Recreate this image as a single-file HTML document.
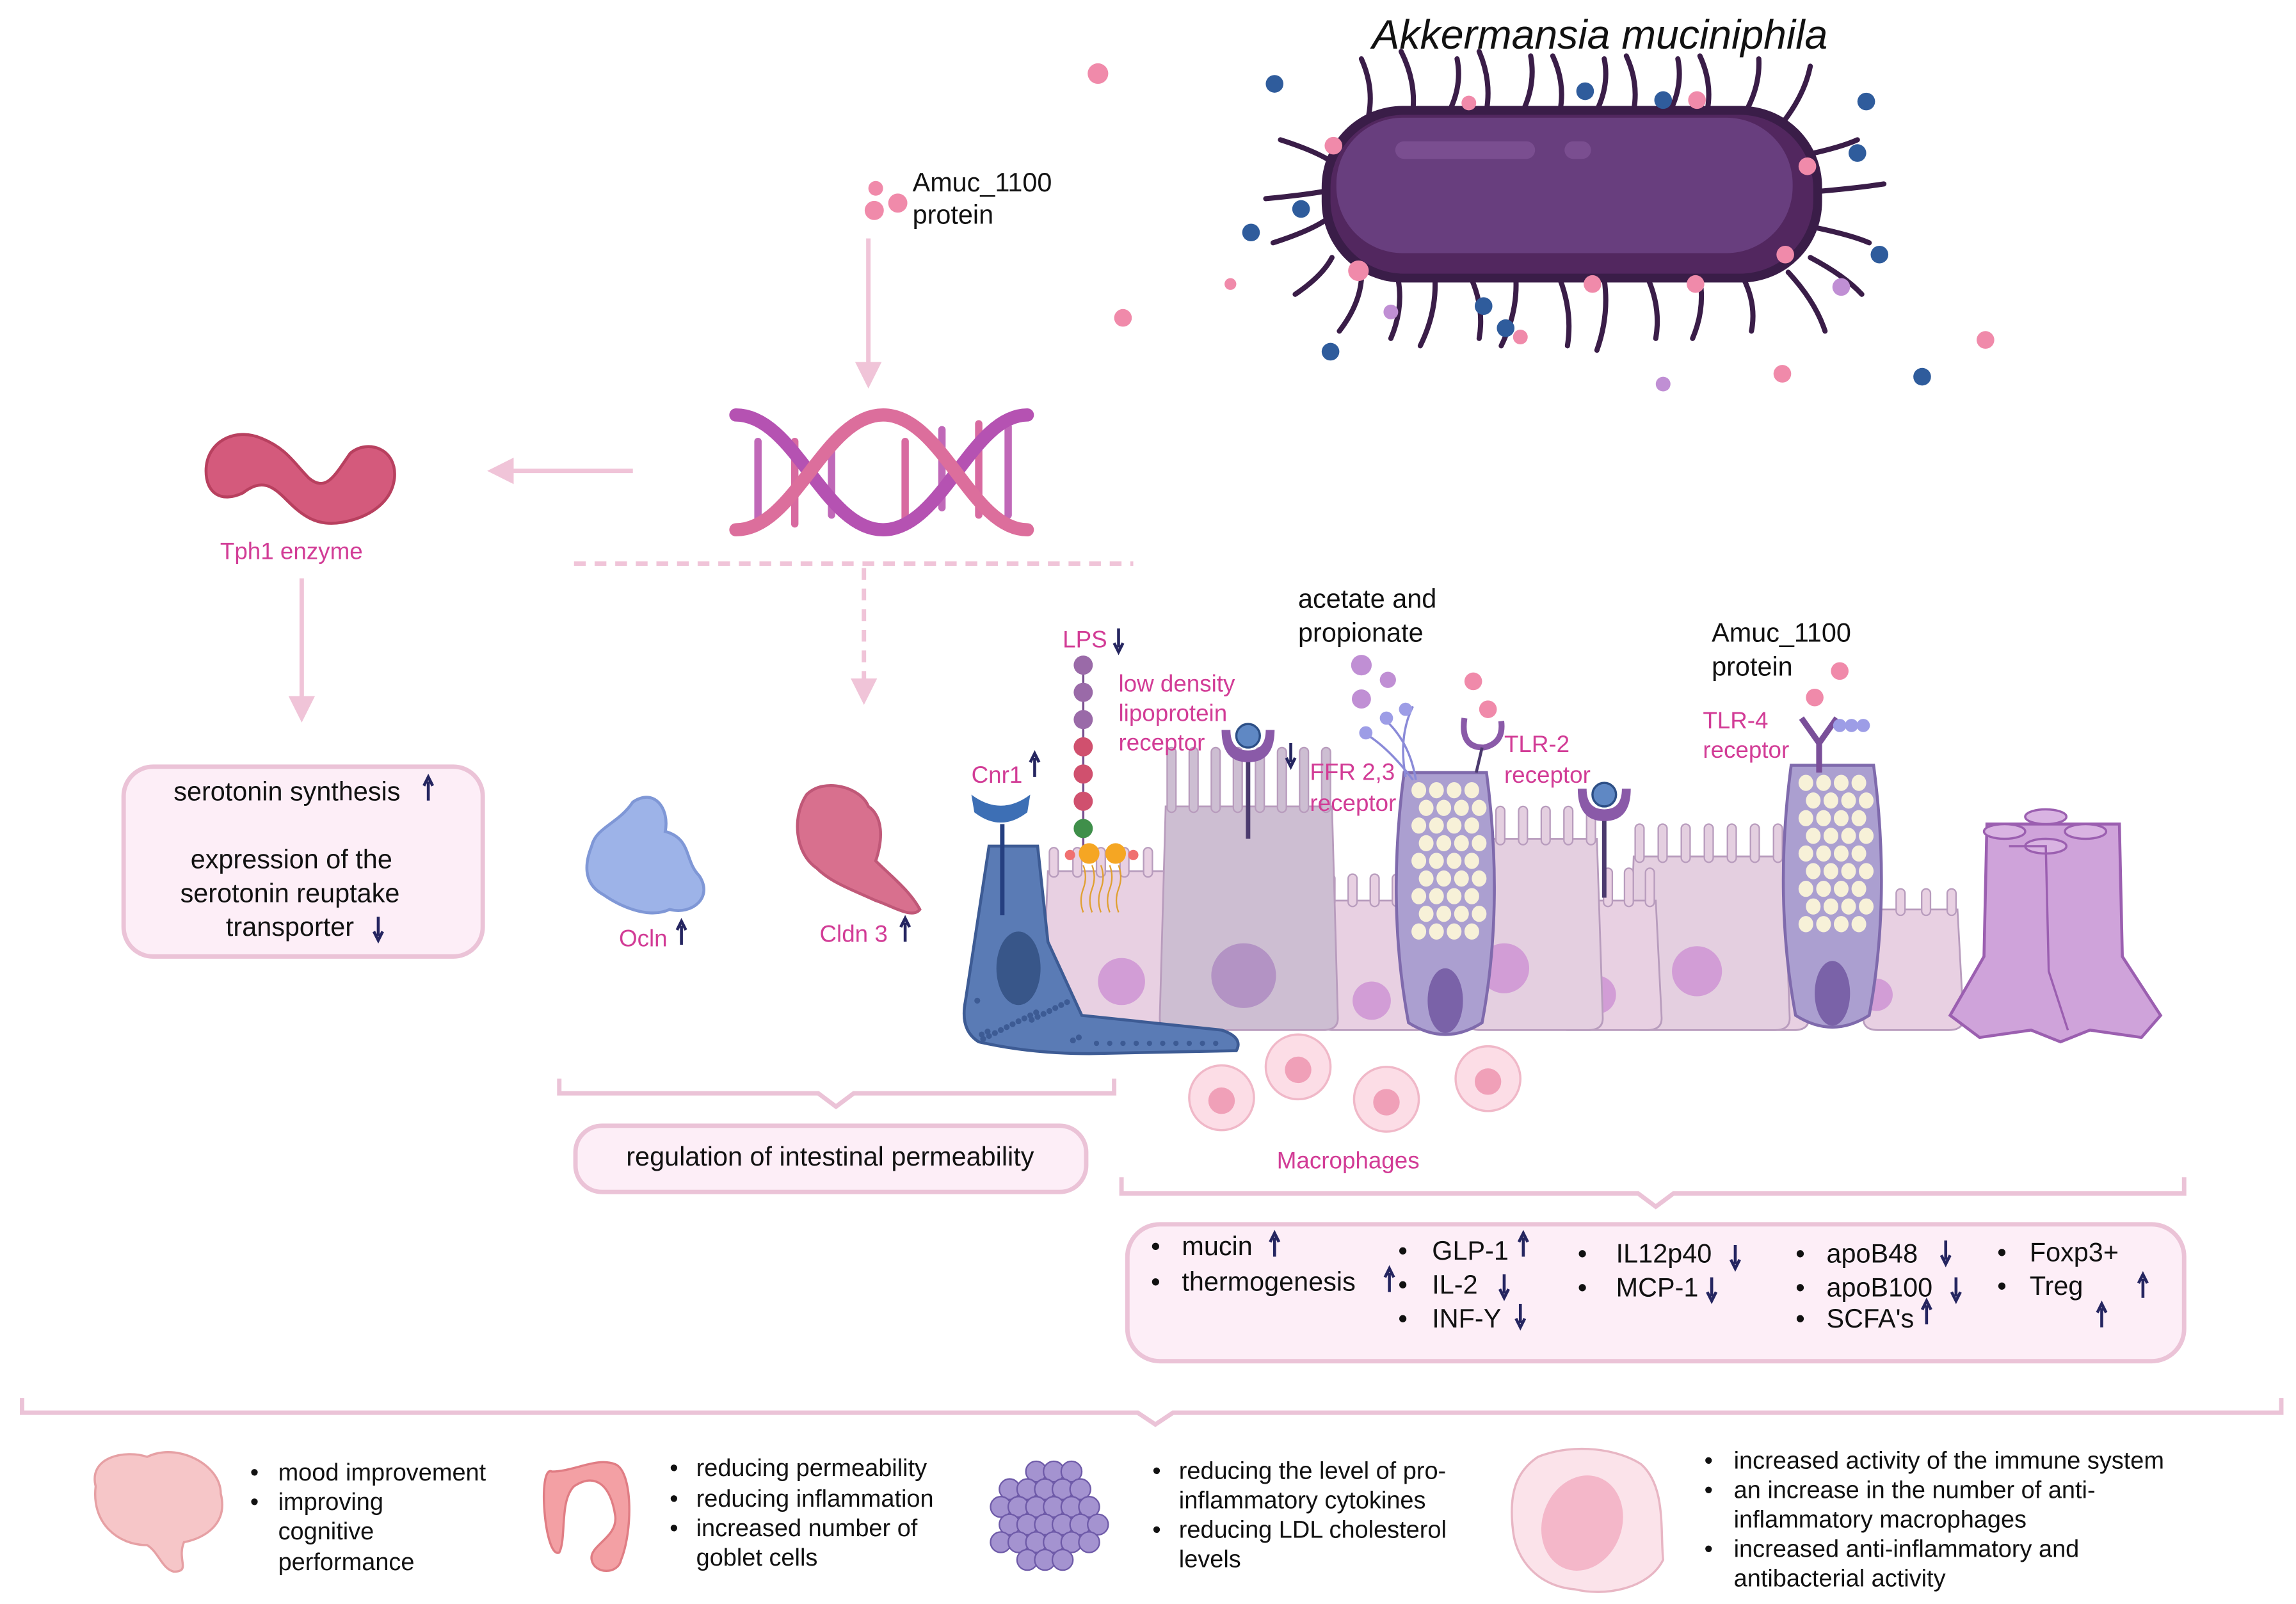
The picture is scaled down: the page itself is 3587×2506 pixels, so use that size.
<!DOCTYPE html>
<html><head><meta charset="utf-8"><style>
html,body{margin:0;padding:0;background:#fff}
svg{display:block}
text{font-family:"Liberation Sans",sans-serif}
.b{fill:#111;font-size:18px}
.p{fill:#d23c96;font-size:16px}
.s{fill:#111;font-size:16.5px}
</style></head><body>
<svg width="3587" height="2506" viewBox="0 0 1560 1090" preserveAspectRatio="none" xmlns="http://www.w3.org/2000/svg">
<defs>
<marker id="ah" markerWidth="6" markerHeight="6" refX="3" refY="3" orient="auto" markerUnits="strokeWidth"><path d="M0,0 L6,3 L0,6 z" fill="#f0c4d8"/></marker>
</defs>
<rect width="1560" height="1090" fill="#fff"/>

<!-- Bacterium -->
<text x="1087" y="33" font-size="28" font-style="italic" text-anchor="middle" fill="#111">Akkermansia muciniphila</text>
<g id="flag" stroke="#3a1d48" stroke-width="3.5" fill="none" stroke-linecap="round"></g>
<rect x="898" y="72" width="340" height="120" rx="55" fill="#3a1d48"/>
<rect x="904" y="78" width="328" height="108" rx="50" fill="#52275f"/>
<rect x="908" y="80" width="310" height="92" rx="45" fill="#683e7e"/>
<rect x="948" y="96" width="95" height="12" rx="6" fill="#7a4e90"/>
<rect x="1063" y="96" width="18" height="12" rx="6" fill="#7a4e90"/>
<g id="dots"></g>

<!-- Amuc protein top -->
<circle cx="595" cy="128" r="5" fill="#f08aaa"/><circle cx="594" cy="143" r="6.5" fill="#f08aaa"/><circle cx="610" cy="138" r="6.5" fill="#f08aaa"/>
<text x="620" y="130" class="b">Amuc_1100</text><text x="620" y="152" class="b">protein</text>
<line x1="590" y1="162" x2="590" y2="255" stroke="#f0c4d8" stroke-width="3" marker-end="url(#ah)"/>

<!-- DNA -->
<g stroke-width="9" fill="none" stroke-linecap="round">
<g stroke-width="5">
<line x1="515" y1="300" x2="515" y2="352" stroke="#c068b8"/><line x1="540" y1="300" x2="540" y2="356" stroke="#d86aa0"/>
<line x1="565" y1="305" x2="565" y2="350" stroke="#c068b8"/><line x1="615" y1="300" x2="615" y2="355" stroke="#d86aa0"/>
<line x1="640" y1="292" x2="640" y2="345" stroke="#c068b8"/><line x1="665" y1="288" x2="665" y2="350" stroke="#d86aa0"/>
<line x1="685" y1="290" x2="685" y2="350" stroke="#c068b8"/>
</g>
<path d="M500,282 C540,282 560,360 600,360 C640,360 660,282 698,282" stroke="#b552b2"/>
<path d="M500,360 C540,360 560,282 600,282 C640,282 660,360 698,360" stroke="#dc6e9c"/>
</g>
<line x1="430" y1="320" x2="340" y2="320" stroke="#f0c4d8" stroke-width="3" marker-end="url(#ah)"/>

<!-- Tph1 -->
<path d="M140,320 C140,300 160,290 178,298 C195,305 200,315 210,325 C222,335 228,322 238,308 C250,298 270,305 268,325 C266,342 250,352 232,355 C215,358 205,350 195,340 C185,330 178,325 165,335 C150,342 140,335 140,320 z" fill="#d45a7c" stroke="#b8405f" stroke-width="2"/>
<text x="198" y="380" class="p" text-anchor="middle">Tph1 enzyme</text>
<line x1="205" y1="393" x2="205" y2="482" stroke="#f0c4d8" stroke-width="3" marker-end="url(#ah)"/>

<!-- serotonin box -->
<rect x="84" y="521" width="244" height="129" rx="20" fill="#fdeef7" stroke="#ebc3d7" stroke-width="3"/>
<text x="195" y="544" class="b" text-anchor="middle">serotonin synthesis</text>
<text x="198" y="590" class="b" text-anchor="middle">expression of the</text>
<text x="197" y="613" class="b" text-anchor="middle">serotonin reuptake</text>
<text x="197" y="636" class="b" text-anchor="middle">transporter</text>

<!-- dashed lines -->
<line x1="390" y1="383" x2="770" y2="383" stroke="#f0c4d8" stroke-width="3" stroke-dasharray="8,6"/>
<line x1="587" y1="386" x2="587" y2="470" stroke="#f0c4d8" stroke-width="3" stroke-dasharray="8,6" marker-end="url(#ah)"/>

<!-- Ocln, Cldn -->
<path d="M430,545 C445,535 455,550 452,565 C470,570 465,585 475,595 C485,610 470,622 455,618 C440,625 420,615 410,608 C395,600 398,585 402,575 C405,562 420,560 430,545 z" fill="#9db3e8" stroke="#7f97d6" stroke-width="2"/>
<text x="437" y="643" class="p" text-anchor="middle">Ocln</text>
<path d="M548,540 C560,528 585,535 590,548 C600,555 600,570 595,585 C605,595 618,605 625,618 C620,625 605,615 595,612 C580,605 565,600 555,590 C540,580 538,555 548,540 z" fill="#d8708e" stroke="#c05878" stroke-width="2"/>
<text x="580" y="640" class="p" text-anchor="middle">Cldn 3</text>

<!-- Epithelium -->
<g id="cells"></g>

<!-- labels epithelium -->
<text x="722" y="440" class="p">LPS</text>
<text x="760" y="470" class="p">low density</text>
<text x="760" y="490" class="p">lipoprotein</text>
<text x="760" y="510" class="p">receptor</text>
<text x="660" y="532" class="p">Cnr1</text>
<text x="882" y="413" class="b">acetate and</text>
<text x="882" y="436" class="b">propionate</text>
<text x="890" y="530" class="p">FFR 2,3</text>
<text x="890" y="551" class="p">receptor</text>
<text x="1022" y="511" class="p">TLR-2</text>
<text x="1022" y="532" class="p">receptor</text>
<text x="1163" y="436" class="b">Amuc_1100</text>
<text x="1163" y="459" class="b">protein</text>
<text x="1157" y="495" class="p">TLR-4</text>
<text x="1157" y="515" class="p">receptor</text>
<text x="916" y="794" class="p" text-anchor="middle">Macrophages</text>

<!-- braces -->
<path d="M380,733 V743 H556 L568,752 L580,743 H757 V733" fill="none" stroke="#ebc3d7" stroke-width="3"/>
<rect x="391" y="765" width="347" height="45" rx="18" fill="#fdeef7" stroke="#ebc3d7" stroke-width="3"/>
<text x="564" y="792" class="b" text-anchor="middle">regulation of intestinal permeability</text>

<path d="M762,800 V811 H1113 L1125,820 L1137,811 H1484 V800" fill="none" stroke="#ebc3d7" stroke-width="3"/>
<rect x="766" y="832" width="718" height="93" rx="22" fill="#fdeef7" stroke="#ebc3d7" stroke-width="3"/>
<g class="b">
<text x="782" y="853">•</text><text x="803" y="853">mucin</text>
<text x="782" y="877">•</text><text x="803" y="877">thermogenesis</text>
<text x="950" y="856">•</text><text x="973" y="856">GLP-1</text>
<text x="950" y="879">•</text><text x="973" y="879">IL-2</text>
<text x="950" y="902">•</text><text x="973" y="902">INF-Y</text>
<text x="1072" y="858">•</text><text x="1098" y="858">IL12p40</text>
<text x="1072" y="881">•</text><text x="1098" y="881">MCP-1</text>
<text x="1220" y="858">•</text><text x="1241" y="858">apoB48</text>
<text x="1220" y="881">•</text><text x="1241" y="881">apoB100</text>
<text x="1220" y="902">•</text><text x="1241" y="902">SCFA's</text>
<text x="1357" y="857">•</text><text x="1379" y="857">Foxp3+</text>
<text x="1357" y="880">•</text><text x="1379" y="880">Treg</text>
</g>

<path d="M15,950 V960 H773 L785,968 L797,960 H1550 V950" fill="none" stroke="#ebc3d7" stroke-width="3"/>

<!-- bottom icons -->
<path d="M65,1010 C60,990 85,985 100,990 C120,980 150,995 150,1015 C155,1035 140,1045 125,1048 C120,1060 130,1068 118,1068 C110,1066 108,1055 100,1050 C80,1050 62,1035 65,1010 z" fill="#f6c6c8" stroke="#e6a0a4" stroke-width="1.5"/>
<path d="M375,1000 C365,995 370,1060 380,1055 C385,1045 380,1020 390,1010 C405,1000 415,1010 418,1030 C420,1045 400,1050 402,1060 C404,1070 420,1070 422,1060 C430,1040 430,1000 418,995 C405,990 390,1000 375,1000 z" fill="#f3a0a4" stroke="#e07d84" stroke-width="1.5"/>
<g id="clus"></g>
<path d="M1045,990 C1070,980 1100,985 1115,995 C1132,1010 1128,1040 1130,1060 C1120,1080 1090,1085 1070,1080 C1045,1078 1030,1060 1028,1040 C1025,1015 1030,1000 1045,990 z" fill="#fbe3ea" stroke="#e8b6c4" stroke-width="1.5"/>
<ellipse cx="1075" cy="1035" rx="27" ry="33" transform="rotate(20 1075 1035)" fill="#f4b7c9"/>

<g class="s">
<text x="170" y="1006">•</text><text x="189" y="1006">mood improvement</text>
<text x="170" y="1026">•</text><text x="189" y="1026">improving</text>
<text x="189" y="1046">cognitive</text>
<text x="189" y="1067">performance</text>
<text x="455" y="1003">•</text><text x="473" y="1003">reducing permeability</text>
<text x="455" y="1024">•</text><text x="473" y="1024">reducing inflammation</text>
<text x="455" y="1044">•</text><text x="473" y="1044">increased number of</text>
<text x="473" y="1064">goblet cells</text>
<text x="783" y="1005">•</text><text x="801" y="1005">reducing the level of pro-</text>
<text x="801" y="1025">inflammatory cytokines</text>
<text x="783" y="1045">•</text><text x="801" y="1045">reducing LDL cholesterol</text>
<text x="801" y="1065">levels</text>
<text x="1158" y="998">•</text><text x="1178" y="998">increased activity of the immune system</text>
<text x="1158" y="1018">•</text><text x="1178" y="1018">an increase in the number of anti-</text>
<text x="1178" y="1038">inflammatory macrophages</text>
<text x="1158" y="1058">•</text><text x="1178" y="1058">increased anti-inflammatory and</text>
<text x="1178" y="1078">antibacterial activity</text>
</g>
<g id="arr"></g>
</svg>
<script>
const NS="http://www.w3.org/2000/svg";
function el(p,t,a){const e=document.createElementNS(NS,t);for(const k in a)e.setAttribute(k,a[k]);document.getElementById(p).appendChild(e);return e;}
// flagella
const fl=[[930,78,925,40],[960,75,952,35],[985,75,990,40],[1010,75,1005,35],[1035,75,1040,38],[1060,75,1055,38],[1085,75,1090,40],[1110,75,1105,38],[1135,75,1140,40],[1160,75,1155,38],[1185,78,1195,40],[1210,85,1230,45],[1228,105,1262,95],[1236,130,1280,125],[1235,155,1270,165],[1230,175,1265,200],[1215,185,1240,225],[905,110,870,95],[900,130,860,135],[900,150,865,165],[905,175,880,200],[925,190,910,225],[950,190,945,230],[975,190,965,235],[1000,190,1005,230],[1030,190,1020,235],[1060,190,1065,235],[1090,190,1085,238],[1120,190,1125,230],[1155,190,1150,230],[1185,190,1190,225]];
fl.forEach(f=>el("flag","path",{d:`M${f[0]},${f[1]} Q${(f[0]+f[2])/2+6},${(f[1]+f[3])/2} ${f[2]},${f[3]}`}));
const pk="#f08aaa",nv="#2f5c9c",lv="#c08fd4";
[[746,50,7,pk],[866,57,6,nv],[1077,62,6,nv],[998,70,5,pk],[1130,68,6,nv],[1153,68,6,pk],[1268,69,6,nv],[1262,104,6,nv],[906,99,6,pk],[884,142,6,nv],[850,158,6,nv],[1228,113,6,pk],[1213,173,6,pk],[1277,173,6,nv],[923,184,7,pk],[836,193,4,pk],[945,212,5,lv],[1008,208,6,nv],[1023,223,6,nv],[1033,229,5,pk],[1082,193,6,pk],[1152,193,6,pk],[1251,195,6,lv],[763,216,6,pk],[904,239,6,nv],[1130,261,5,lv],[1211,254,6,pk],[1306,256,6,nv],[1349,231,6,pk]].forEach(d=>el("dots","circle",{cx:d[0],cy:d[1],r:d[2],fill:d[3]}));
// cells
function cell(x1,x2,top,bot,fill,nx,ny,nr,nf,vh){
  el("cells","path",{d:`M${x1},${top} L${x2},${top} L${x2+4},${bot-8} Q${x2+4},${bot} ${x2-6},${bot} L${x1+6},${bot} Q${x1-4},${bot} ${x1-4},${bot-8} z`,fill:fill,stroke:"#b89cbd","stroke-width":1.2});
  const n=Math.floor((x2-x1)/13);
  for(let i=0;i<n;i++){const vx=x1+4+i*((x2-x1-8)/Math.max(1,n-1))-3;el("cells","rect",{x:vx,y:top-vh,width:6,height:vh+4,rx:3,fill:fill,stroke:"#b89cbd","stroke-width":1});}
  el("cells","circle",{cx:nx,cy:ny,r:nr,fill:nf});
}
cell(712,800,592,700,"#e8d0e2",762,667,16,"#d29dd6",16);
cell(1270,1330,618,700,"#e8d0e2",1275,676,11,"#d29dd6",14);
cell(1185,1225,612,700,"#e8d0e2",1202,676,12,"#d29dd6",12);
cell(1110,1212,582,700,"#e4cfe0",1153,660,17,"#d29dd6",22);
cell(1060,1125,612,700,"#e8d0e2",1085,676,13,"#d29dd6",22);
cell(1000,1085,570,700,"#e4cfe0",1022,658,17,"#d29dd6",22);
cell(900,968,612,700,"#e8d0e2",932,680,13,"#d29dd6",18);
cell(792,905,548,700,"#cdbed2",845,663,22,"#b393c4",40);
// goblets
function gob(cx,top,bot){
  el("cells","path",{d:`M${cx-28},${top} Q${cx-40},${(top+bot)/2} ${cx-25},${bot-10} Q${cx},${bot+6} ${cx+25},${bot-10} Q${cx+40},${(top+bot)/2} ${cx+28},${top} z`,fill:"#ab9fd0",stroke:"#7f6aac","stroke-width":2});
  for(let r=0;r<9;r++)for(let c=0;c<4;c++){el("cells","ellipse",{cx:cx-18+c*12+(r%2)*5,cy:top+12+r*12,rx:5,ry:5.5,fill:"#f7f1d8"});}
  el("cells","ellipse",{cx:cx,cy:bot-25,rx:12,ry:22,fill:"#7a62a8"});
}
gob(982,525,705);gob(1245,520,700);
// blue cell
el("cells","path",{d:"M672,575 L705,575 L712,640 L735,690 L830,700 Q845,705 840,714 L740,716 Q700,716 665,708 Q652,700 656,680 Z",fill:"#5a7bb5",stroke:"#3d5b94","stroke-width":2});
el("cells","ellipse",{cx:692,cy:658,rx:15,ry:25,fill:"#385689"});
for(let i=0;i<22;i++)el("cells","circle",{cx:664+(i*37)%70,cy:680+(i*13)%28,r:2,fill:"#3d5b94"});
for(let i=0;i<10;i++)el("cells","circle",{cx:745+i*9,cy:709,r:1.8,fill:"#3d5b94"});
el("cells","path",{d:"M660,540 Q680,555 700,540 L698,552 Q680,566 662,552 Z",fill:"#3d6fb5"});
el("cells","line",{x1:681,y1:560,x2:681,y2:622,stroke:"#253f80","stroke-width":3});
// tuft
el("cells","path",{d:"M1350,560 L1440,560 L1442,650 L1468,690 L1455,705 L1420,700 L1400,708 L1380,700 L1345,705 L1325,690 L1348,650 Z",fill:"#cfa3da",stroke:"#9b5fb0","stroke-width":2});
[[1350,565],[1378,555],[1405,565],[1378,575]].forEach(p=>{el("cells","ellipse",{cx:p[0]+12,cy:p[1],rx:14,ry:5,fill:"#d9b3e2",stroke:"#9b5fb0","stroke-width":1.5});});
el("cells","path",{d:"M1365,575 L1390,575 L1392,660 L1405,700",fill:"none",stroke:"#9b5fb0","stroke-width":1.5});
// LPS chain
const cols=["#9a6aa8","#9a6aa8","#9a6aa8","#d0506e","#d0506e","#d0506e","#3f8f4a"];
el("cells","line",{x1:736,y1:452,x2:736,y2:578,stroke:"#7a4f8f","stroke-width":1.5});
cols.forEach((c,i)=>el("cells","circle",{cx:736,cy:452+i*18.5,r:6.5,fill:c}));
el("cells","circle",{cx:740,cy:580,r:7,fill:"#f5a623"});el("cells","circle",{cx:758,cy:580,r:7,fill:"#f5a623"});
el("cells","circle",{cx:727,cy:581,r:3.5,fill:"#f07070"});el("cells","circle",{cx:770,cy:581,r:3.5,fill:"#f07070"});
for(let i=0;i<5;i++)el("cells","path",{d:`M${736+i*6},588 q3,8 0,16 q-3,8 0,16`,fill:"none",stroke:"#e0a030","stroke-width":1});
// receptors
function rec(cx,cy,len){el("cells","line",{x1:cx,y1:cy+10,x2:cx,y2:cy+len,stroke:"#4b3a6e","stroke-width":3});
 el("cells","path",{d:`M${cx-18},${cy-6} Q${cx-18},${cy+16} ${cx},${cy+16} Q${cx+18},${cy+16} ${cx+18},${cy-6} L${cx+12},${cy-6} Q${cx+12},${cy+8} ${cx},${cy+8} Q${cx-12},${cy+8} ${cx-12},${cy-6} Z`,fill:"#8a5aa8"});
 el("cells","circle",{cx:cx,cy:cy-2,r:8,fill:"#5f88c4",stroke:"#2d4f86","stroke-width":1.5});}
rec(848,502,68);rec(1090,542,68);
// TLR-2
el("cells","path",{d:"M995,488 Q992,508 1008,508 Q1022,505 1020,490",fill:"none",stroke:"#8a5aa8","stroke-width":4});
el("cells","line",{x1:1007,y1:508,x2:1003,y2:525,stroke:"#4b3a6e","stroke-width":2});
// TLR-4
el("cells","path",{d:"M1224,488 L1236,505 L1248,488 M1236,505 L1236,525",fill:"none",stroke:"#7a4f99","stroke-width":4});
// FFR branches
el("cells","path",{d:"M960,530 Q945,510 930,500 M955,528 Q950,500 960,480 M962,530 Q958,505 942,490",fill:"none",stroke:"#8a8ad8","stroke-width":1.5});
[[928,498],[942,488],[955,482],[1258,493],[1266,493],[1250,493]].forEach(p=>el("cells","circle",{cx:p[0],cy:p[1],r:4.5,fill:"#9d9de6"}));
// acetate dots
[[925,452,7,lv],[943,462,5.5,lv],[925,475,6.5,lv],[1001,463,6,pk],[1011,482,6,pk],[1250,456,6,pk],[1233,474,6,pk]].forEach(d=>el("cells","circle",{cx:d[0],cy:d[1],r:d[2],fill:d[3]}));
// macrophages
[[830,746],[882,725],[942,747],[1011,733]].forEach(m=>{el("cells","circle",{cx:m[0],cy:m[1],r:22,fill:"#fcdde6",stroke:"#f0b8c8","stroke-width":1.5});el("cells","circle",{cx:m[0],cy:m[1]+2,r:9,fill:"#f0a0b8"});});
// cluster
for(let r=0;r<6;r++)for(let c=0;c<6;c++){const x=680+c*12+(r%2)*6,y=1000+r*12;if(Math.hypot(x-711,y-1031)<36)el("clus","circle",{cx:x,cy:y,r:7,fill:"#a493d0",stroke:"#6e5aa8","stroke-width":1});}
// small arrows
function ar(x,y,up){const d=up?`M${x},${y+16} L${x},${y+3} M${x-3},${y+6} L${x},${y} L${x+3},${y+6}`:`M${x},${y} L${x},${y+13} M${x-3},${y+10} L${x},${y+16} L${x+3},${y+10}`;el("arr","path",{d:d,stroke:"#252560","stroke-width":2,fill:"none"});}
[[291,528,1],[257,623,0],[463,626,1],[615,624,1],[760,427,0],[703,512,1],[877,505,0],[866,838,1],[944,862,1],[1035,838,1],[1022,866,0],[1033,886,0],[1179,846,0],[1163,868,0],[1322,843,0],[1329,868,0],[1309,884,1],[1456,866,1],[1428,886,1]].forEach(a=>ar(a[0],a[1],a[2]));
</script>
</body></html>
